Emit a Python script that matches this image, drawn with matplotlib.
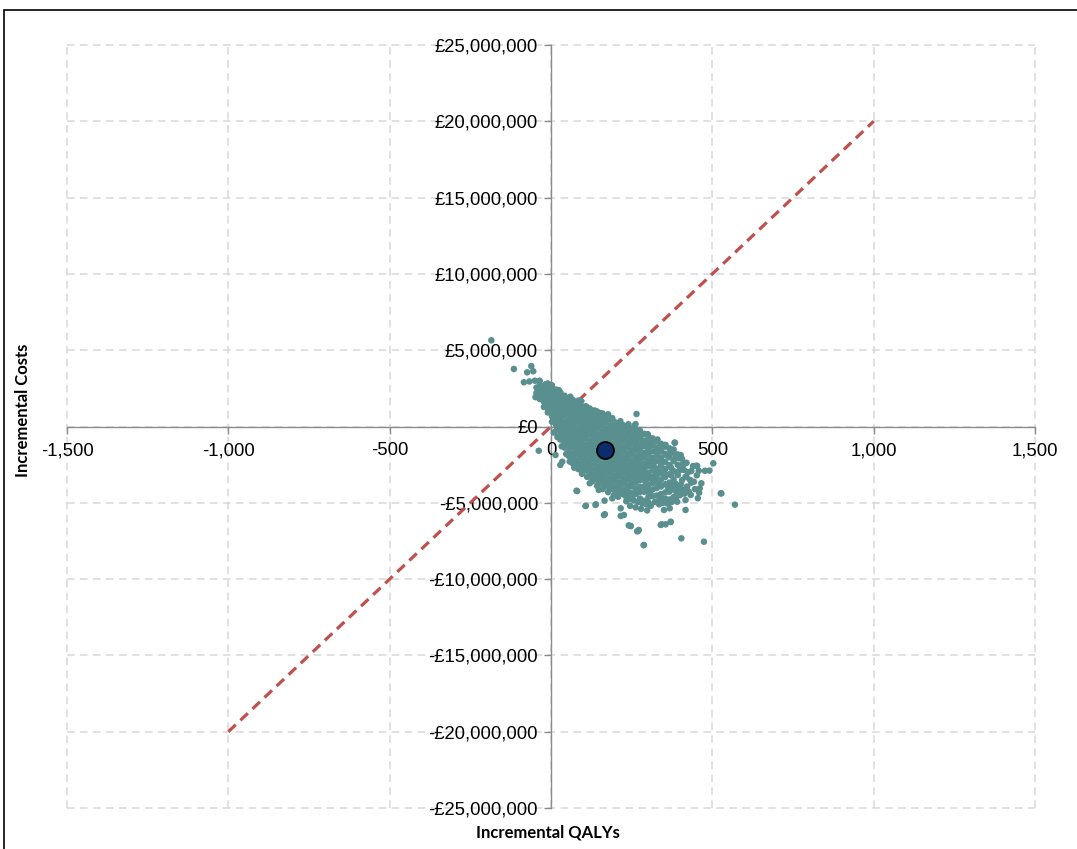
import matplotlib
matplotlib.use("Agg")
import matplotlib.pyplot as plt
from matplotlib.patches import Rectangle
from matplotlib.ticker import FuncFormatter

plt.rcParams["font.family"] = ["Liberation Sans", "DejaVu Sans"]

# ---------------- data ----------------
x_ticks = [-1500, -1000, -500, 0, 500, 1000, 1500]
y_ticks = [-25e6, -20e6, -15e6, -10e6, -5e6, 0, 5e6, 10e6, 15e6, 20e6, 25e6]

# willingness-to-pay threshold line (£20,000 per QALY)
wtp_qaly = [-1000, 1000]
wtp_cost = [-20e6, 20e6]

# mean incremental result
mean_qaly = 167
mean_cost = -1.54e6

# dense part of the PSA cloud: incremental QALYs and the costs (£m) read at that QALY value
cloud_columns = [
    (-45, [2.55, 2.2]),
    (-35, [2.75, 2.42, 2.05, 1.8]),
    (-22, [2.62, 2.3, 1.93, 1.62, 1.28]),
    (-10, [2.82, 2.5, 2.17, 1.83, 1.52, 1.18, 0.92]),
    (3, [2.7, 2.33, 2.02, 1.68, 1.37, 0.98, 0.66, 0.31]),
    (16, [2.42, 2.08, 1.81, 1.44, 1.12, 0.78, 0.47, 0.09, -0.28]),
    (29, [2.24, 1.92, 1.58, 1.27, 0.88, 0.57, 0.18, -0.16, -0.52, -0.86]),
    (42, [2.02, 1.68, 1.37, 0.99, 0.72, 0.33, 0.02, -0.37, -0.68, -1.06, -1.38]),
    (55, [1.86, 1.52, 1.18, 0.87, 0.48, 0.16, -0.22, -0.53, -0.92, -1.24, -1.62, -1.93]),
    (68, [1.74, 1.42, 1.03, 0.72, 0.33, 0.02, -0.36, -0.68, -1.07, -1.38, -1.77, -2.08, -2.42]),
    (81, [1.61, 1.28, 0.96, 0.58, 0.27, -0.12, -0.43, -0.82, -1.13, -1.52, -1.83, -2.22, -2.48]),
    (94, [1.66, 1.33, 1.07, 0.69, 0.41, 0.03, -0.31, -0.63, -1.02, -1.33, -1.72, -2.03, -2.42, -2.73]),
    (107, [1.32, 0.93, 0.62, 0.23, -0.08, -0.47, -0.78, -1.17, -1.48, -1.87, -2.18, -2.57, -2.88]),
    (120, [1.18, 0.87, 0.48, 0.17, -0.22, -0.53, -0.92, -1.23, -1.62, -1.93, -2.32, -2.63, -3.02, -3.28]),
    (133, [1.02, 0.68, 0.37, -0.02, -0.33, -0.72, -1.03, -1.42, -1.73, -2.12, -2.43, -2.82, -3.08, -3.42]),
    (146, [0.83, 0.57, 0.18, -0.13, -0.52, -0.83, -1.22, -1.53, -1.92, -2.23, -2.62, -2.93, -3.32, -3.58]),
    (159, [0.77, 0.38, 0.07, -0.32, -0.63, -1.02, -1.33, -1.72, -2.03, -2.42, -2.73, -3.12, -3.43, -3.77]),
    (172, [0.58, 0.27, -0.12, -0.43, -0.82, -1.13, -1.52, -1.83, -2.22, -2.53, -2.92, -3.23, -3.62, -3.88]),
    (185, [0.47, 0.08, -0.23, -0.62, -0.93, -1.32, -1.63, -2.02, -2.33, -2.72, -3.03, -3.42, -3.73, -4.07]),
    (198, [0.28, -0.03, -0.42, -0.73, -1.12, -1.43, -1.82, -2.13, -2.52, -2.83, -3.22, -3.53, -3.92, -4.18]),
    (211, [0.22, -0.17, -0.48, -0.87, -1.18, -1.57, -1.88, -2.27, -2.58, -2.97, -3.28, -3.67, -3.98, -4.32]),
    (224, [0.08, -0.23, -0.62, -0.93, -1.32, -1.63, -2.02, -2.33, -2.72, -3.03, -3.42, -3.73, -4.12, -4.43]),
    (237, [0.02, -0.37, -0.68, -1.07, -1.38, -1.77, -2.08, -2.47, -2.78, -3.17, -3.48, -3.87, -4.18, -4.57]),
    (250, [-0.12, -0.43, -0.82, -1.13, -1.52, -1.83, -2.22, -2.53, -2.92, -3.23, -3.62, -3.93, -4.37, -4.68]),
    (263, [-0.18, -0.57, -0.88, -1.27, -1.58, -1.97, -2.28, -2.67, -2.98, -3.37, -3.68, -4.07, -4.43]),
    (276, [-0.42, -0.73, -1.12, -1.43, -1.82, -2.13, -2.52, -2.83, -3.22, -3.53, -3.97, -4.28, -4.72]),
    (289, [-0.48, -0.92, -1.28, -1.72, -2.03, -2.42, -2.78, -3.17, -3.48, -3.92, -4.28, -4.87]),
    (302, [-0.67, -1.03, -1.47, -1.83, -2.22, -2.58, -3.02, -3.38, -3.82, -4.18, -4.62, -4.98]),
    (315, [-0.78, -1.22, -1.63, -2.07, -2.43, -2.87, -3.28, -3.72, -4.13, -4.57]),
    (328, [-0.97, -1.38, -1.87, -2.28, -2.77, -3.18, -3.62, -4.03, -4.52, -4.93]),
    (341, [-1.13, -1.62, -2.03, -2.57, -2.98, -3.47, -3.93, -4.42, -4.83]),
    (354, [-1.32, -1.78, -2.32, -2.78, -3.32, -3.78, -4.32, -4.73]),
    (367, [-1.43, -2.02, -2.53, -3.12, -3.68, -4.27, -4.78]),
    (380, [-1.72, -2.28, -2.92, -3.48, -4.12, -4.63]),
    (393, [-1.83, -2.52, -3.18, -3.92, -4.48]),
    (406, [-2.12, -2.78, -3.52, -4.18]),
    (420, [-2.38, -3.32, -3.98]),
    (435, [-2.92, -3.68]),
]

# in-between simulations that break up the dense core (QALY, £m)
fill_qaly = [-28, -4, 10, 23, 36, 49, 62, 75, 88, 101, 114, 127, 140, 153, 166, 179, 192, 205,
             218, 231, 244, 257, 270, 283, 296, 309, 322, 335, 348, 361, 374, 387, 400,
             22, 48, 74, 100, 126, 152, 178, 204, 230, 256, 282, 308, 334, 360, 386,
             8, 35, 61, 87, 113, 139, 165, 191, 217, 243, 269, 295, 321, 347, 373,
             258, 267, 281, 293, 299, 306, 318, 324, 331, 337, 345, 351, 358, 363, 372, 377,
             384, 389, 397, 402, 411, 414, 425, 431, 440, 446, 452, 458, 233, 245, 262, 279,
             298, 226, 208, 195, 177, 160, 143, 128, 112, 96, 85, 72, 58, 47, 33, 20, 9,
             60, 85, 110, 135, 160, 190, 215, 240, 275, 300, 330, 355, 380]
fill_cost = [2.1, 1.7, 1.2, 0.7, 0.2, -0.3, -0.8, -1.25, -1.7, -2.1, -2.5, -2.85, -3.2, -3.5,
             -3.8, -3.95, -4.1, -4.25, -4.4, -4.55, -4.75, -4.85, -4.95, -5.05, -5.1, -5.2, -4.95,
             -5.1, -5.0, -5.05, -4.95, -4.7, -4.5,
             1.6, 1.1, 0.55, 0.1, -0.4, -0.85, -1.3, -1.75, -2.2, -2.6, -3.0, -3.4, -3.7, -3.85, -3.75,
             1.9, 1.3, 0.9, 0.4, -0.1, -0.5, -0.7, -1.0, -1.4, -1.8, -2.3, -2.6, -2.9, -3.1, -3.2,
             -3.1, -4.2, -2.0, -3.6, -1.2, -4.4, -2.6, -3.5, -1.6, -4.6, -2.3, -3.1, -1.9, -4.0, -2.7, -3.9,
             -2.1, -4.3, -2.9, -3.8, -2.5, -4.4, -3.0, -3.5, -2.6, -4.1, -3.2, -2.9, -4.9, -5.2, -5.3, -5.4,
             -5.5, -3.6, -4.6, -4.5, -4.3, -4.1, -3.9, -3.6, -3.3, -3.1, -2.8, -2.7, -2.3, -1.8, -1.3, -0.7, -0.4,
             1.95, 1.7, 1.3, 1.05, 0.85, 0.55, 0.35, 0.15, -0.25, -0.5, -0.85, -1.2, -1.5]

# sparse / outlying simulations read individually
outlier_qaly = [-185, -115, -61, -74, -55, -84, -67, -50, -35, -48, -17, -2, 24, -38,
                145, 177, 141, 265, 259, 262, 314, 383, 384, 402, 451, 503, 477, 443,
                466, 461, 459, 455, 526, 570, 528, 491, 453, 417, 391, 417, 350, 368,
                371, 355, 340, 272, 247, 288, 404, 474, 226, 427, 433, 350, 381, 391,
                407, 422, 417, 412, 410, 396, 371, 340, 35, 66, 79, 107, 138, 166,
                164, 216, 247, 270, 120, 148, 190, 216, 29, 14, 81, 108, 139, 167,
                267, 241, 343, 371, 287, 123, 153, 178]
outlier_cost = [5.65, 3.77, 3.96, 3.55, 3.62, 2.9, 2.95, 3.0, 3.0, 1.92, 2.77, 2.72, 2.39, -1.59,
                0.93, 0.8, 1.0, 0.82, 0.05, 0.16, -1.06, -1.06, -1.06, -1.87, -2.57, -2.41, -2.9, -3.62,
                -3.72, -4.05, -4.34, -4.7, -4.38, -5.12, -4.38, -2.89, -2.59, -4.82, -4.93, -5.47, -5.47, -5.36,
                -6.24, -6.41, -6.45, -6.78, -6.52, -7.77, -7.33, -7.55, -5.8, -4.27, -4.49, -4.77, -4.82, -4.27,
                -4.16, -3.94, -3.29, -2.85, -2.41, -2.08, -1.65, -1.54, -2.31, -2.37, -4.21, -5.21, -5.14, -4.86,
                -5.8, -5.86, -6.52, -6.85, -3.72, -4.16, -4.71, -5.36, -2.52, -1.87, -4.23, -5.19, -5.1, -5.75,
                -6.87, -6.48, -6.41, -6.26, -7.77, 1.08, 0.88, 0.56]

# ---------------- build the point table ----------------
psa_qaly, psa_cost = [], []
for q, costs_m in cloud_columns:
    for c in costs_m:
        psa_qaly.append(q)
        psa_cost.append(c * 1e6)
for q, c in zip(fill_qaly + outlier_qaly, fill_cost + outlier_cost):
    psa_qaly.append(q)
    psa_cost.append(c * 1e6)

# ---------------- figure ----------------
W, H = 1077, 849
fig = plt.figure(figsize=(W / 100, H / 100), dpi=100)
fig.patch.set_facecolor("white")

left, right, top, bottom = 67, 1035, 45, 808
ax = fig.add_axes([left / W, 1 - bottom / H, (right - left) / W, (bottom - top) / H])
ax.set_facecolor("white")
ax.set_xlim(x_ticks[0], x_ticks[-1])
ax.set_ylim(y_ticks[0], y_ticks[-1])

grid_kw = dict(color="#d9d9d9", linewidth=1.1, linestyle=(0, (5, 3.5)), zorder=0, clip_on=False)
for xv in x_ticks:
    ax.axvline(xv, **grid_kw)
for yv in y_ticks:
    ax.axhline(yv, **grid_kw)

axis_col = "#8c8c8c"
for s in ("top", "right"):
    ax.spines[s].set_visible(False)
ax.spines["left"].set_position(("data", 0))
ax.spines["bottom"].set_position(("data", 0))
for s in ("left", "bottom"):
    ax.spines[s].set_color(axis_col)
    ax.spines[s].set_linewidth(1.0)
    ax.spines[s].set_zorder(1)

ax.set_xticks(x_ticks)
ax.set_yticks(y_ticks)


def money(v, pos=None):
    if v == 0:
        return "£0"
    sign = "-" if v < 0 else ""
    return f"{sign}£{abs(v):,.0f}"


def qal(v, pos=None):
    return f"{v:,.0f}"


ax.yaxis.set_major_formatter(FuncFormatter(money))
ax.xaxis.set_major_formatter(FuncFormatter(qal))
ax.tick_params(axis="both", direction="out", length=5, width=1.0, color=axis_col,
               labelcolor="black", labelsize=13.3)
ax.tick_params(axis="x", pad=6.5)
ax.tick_params(axis="y", pad=4.3)

# threshold line
ax.plot(wtp_qaly, wtp_cost, color="#c0504d", linewidth=2.3, linestyle=(0, (3.2, 2.0)), zorder=2)

# PSA scatter
ax.scatter(psa_qaly, psa_cost, s=22, color="#5a8f8f", edgecolors="none", zorder=3)

# mean
ax.scatter([mean_qaly], [mean_cost], s=150, color="#0b2d6b", edgecolors="black",
           linewidths=1.3, zorder=4)

# axis titles
title_font = dict(family="Lato", weight="bold", size=12)
fig.text(548 / W, 1 - 832 / H, "Incremental QALYs", ha="center", va="center", **title_font)
fig.text(23 / W, 1 - 410 / H, "Incremental Costs", ha="center", va="center", rotation=90, **title_font)

# outer chart border
fig.patches.append(Rectangle((4 / W, -0.1), 1.2, (H - 10) / H + 0.1, transform=fig.transFigure,
                             fill=False, edgecolor="black", linewidth=1.2))

fig.savefig("out.png", dpi=100, facecolor="white")
